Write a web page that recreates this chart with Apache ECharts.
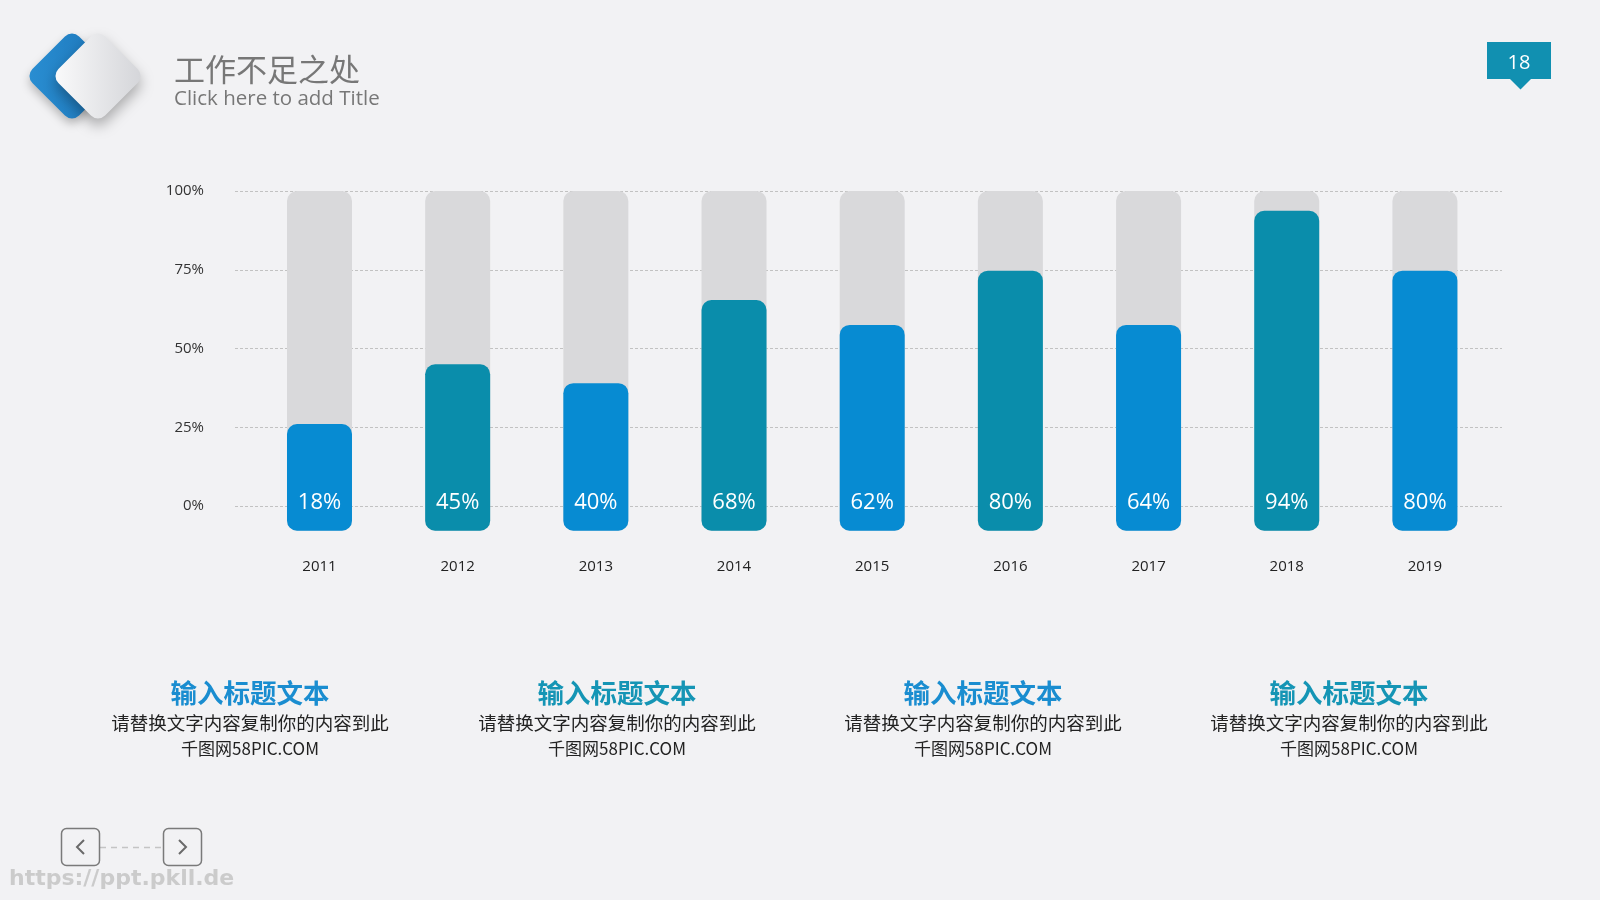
<!DOCTYPE html>
<html>
<head>
<meta charset="utf-8">
<script src="https://cdn.jsdelivr.net/npm/echarts@6/dist/echarts.min.js"></script>
<style>
html,body{margin:0;padding:0;background:#f2f2f4;}
#c{width:1600px;height:900px;}
</style>
</head>
<body>
<div id="c"></div>
<script>
// ---- data ----
const years = ['2011','2012','2013','2014','2015','2016','2017','2018','2019'];
const barHeights = [26, 45, 39, 65.4, 57.5, 74.7, 57.5, 93.7, 74.7]; // visual bar heights (%)
const barLabels = ['18%','45%','40%','68%','62%','80%','64%','94%','80%'];
const yTicks = [0, 25, 50, 75, 100];
const blockTitles = ['输入标题文本','输入标题文本','输入标题文本','输入标题文本'];
const blockLine1 = ['请替换文字内容复制你的内容到此','请替换文字内容复制你的内容到此','请替换文字内容复制你的内容到此','请替换文字内容复制你的内容到此'];
const blockLine2 = ['千图网58PIC.COM','千图网58PIC.COM','千图网58PIC.COM','千图网58PIC.COM'];
const pageNo = '18';

// ---- styling ----
const BLUE = '#078bd2', TEAL = '#0a8dab', GRAY = '#d9d9db';
const BASE = 7.84; // bars extend below the 0% line
const CJK = '"Noto Sans CJK SC","Noto Sans",sans-serif';
const LAT = '"Open Sans","Noto Sans",sans-serif';

const chart = echarts.init(document.getElementById('c'));

const graphics = [];
// logo
graphics.push({
  type:'rect', x:72, y:76, rotation:Math.PI/4,
  shape:{x:-33,y:-33,width:66,height:66,r:10},
  style:{fill:new echarts.graphic.LinearGradient(0,0,1,1,[{offset:0,color:'#2a8fd3'},{offset:1,color:'#1a72b6'}]),
    shadowBlur:10, shadowColor:'rgba(0,0,0,0.25)', shadowOffsetY:5}
});
graphics.push({
  type:'rect', x:98, y:76, rotation:Math.PI/4,
  shape:{x:-33,y:-33,width:66,height:66,r:10},
  style:{fill:new echarts.graphic.LinearGradient(0,0,1,1,[{offset:0,color:'#fbfbfc'},{offset:1,color:'#d3d4d8'}]),
    shadowBlur:14, shadowColor:'rgba(0,0,0,0.3)', shadowOffsetY:7}
});
// title
graphics.push({type:'text', x:174, y:69, style:{text:'工作不足之处', font:'31px '+CJK, fill:'#777777', textVerticalAlign:'middle'}});
graphics.push({type:'text', x:174, y:99.5, style:{text:'Click here to add Title', font:'20.5px '+LAT, fill:'#777777', textVerticalAlign:'middle'}});
// page badge
graphics.push({type:'rect', shape:{x:1487,y:42,width:64,height:37}, style:{fill:'#1190b1'}});
graphics.push({type:'polygon', shape:{points:[[1510,79],[1531,79],[1520.5,89.5]]}, style:{fill:'#1190b1'}});
graphics.push({type:'text', x:1519, y:63, style:{text:pageNo, font:'20px '+LAT, fill:'#ffffff', textAlign:'center', textVerticalAlign:'middle'}});
// bottom text blocks
const blockX = [250, 617, 983, 1349];
blockTitles.forEach((t,i)=>{
  graphics.push({type:'text', x:blockX[i], y:693, style:{text:t, font:'bold 26.5px '+CJK, fill:(i%2===0?'#1a8dd0':'#1595b5'), textAlign:'center', textVerticalAlign:'middle'}});
  graphics.push({type:'text', x:blockX[i], y:723, style:{text:blockLine1[i], font:'18.5px '+CJK, fill:'#222222', textAlign:'center', textVerticalAlign:'middle'}});
  graphics.push({type:'text', x:blockX[i], y:749, style:{text:blockLine2[i], font:'17px '+CJK, fill:'#222222', textAlign:'center', textVerticalAlign:'middle'}});
});
// nav buttons
graphics.push({type:'line', shape:{x1:100,y1:847.5,x2:163,y2:847.5}, style:{stroke:'#c4c4c4', lineWidth:1.5, lineDash:[6,5]}});
graphics.push({type:'rect', shape:{x:61.5,y:828.5,width:38,height:37,r:5}, style:{fill:'none', stroke:'#7a7a7a', lineWidth:1.5}});
graphics.push({type:'rect', shape:{x:163.5,y:828.5,width:38,height:37,r:5}, style:{fill:'none', stroke:'#7a7a7a', lineWidth:1.5}});
graphics.push({type:'polyline', shape:{points:[[84,840],[77,847],[84,854]]}, style:{stroke:'#6a6a6a', lineWidth:2, fill:'none'}});
graphics.push({type:'polyline', shape:{points:[[179,840],[186,847],[179,854]]}, style:{stroke:'#6a6a6a', lineWidth:2, fill:'none'}});
// watermark
graphics.push({type:'text', x:9, y:879, style:{text:'https://ppt.pkll.de', font:'bold 22px "DejaVu Sans",sans-serif', fill:'rgba(190,190,190,0.75)', textVerticalAlign:'middle'}});

const option = {
  backgroundColor:'#f2f2f4',
  animation:false,
  grid:[
    {left:235, right:98, top:191, bottom:394},
    {left:250.4, right:106, top:191, bottom:369.3}
  ],
  xAxis:[
    {gridIndex:0, type:'category', data:years, show:false},
    {gridIndex:1, type:'category', data:years,
     axisLine:{show:false}, axisTick:{show:false},
     axisLabel:{margin:29, fontSize:15, color:'#222222', fontFamily:LAT}}
  ],
  yAxis:[
    {gridIndex:0, type:'value', min:yTicks[0], max:yTicks[yTicks.length-1], interval:25,
     axisLine:{show:false}, axisTick:{show:false},
     axisLabel:{margin:31, fontSize:15, color:'#333333', fontFamily:LAT, formatter:'{value}%'},
     splitLine:{show:true, lineStyle:{color:'#c2c2c2', type:[3,2], width:1}}},
    {gridIndex:1, type:'value', min:0, max:100+BASE, show:false, splitLine:{show:false}}
  ],
  series:[
    {type:'bar', xAxisIndex:1, yAxisIndex:1, barWidth:65, barGap:'-100%', silent:true,
     data:years.map(()=>100+BASE),
     itemStyle:{color:GRAY, borderRadius:10}, z:2},
    {type:'bar', xAxisIndex:1, yAxisIndex:1, barWidth:65, barGap:'-100%',
     data:barHeights.map((v,i)=>({value:v+BASE, itemStyle:{color:(i%2===0?BLUE:TEAL)}})),
     itemStyle:{borderRadius:10}, z:3,
     label:{show:true, position:'insideBottom', distance:17, color:'#ffffff', fontSize:22, fontFamily:LAT,
       formatter:(p)=>barLabels[p.dataIndex]}}
  ],
  graphic:graphics
};
chart.setOption(option);
</script>
</body>
</html>
